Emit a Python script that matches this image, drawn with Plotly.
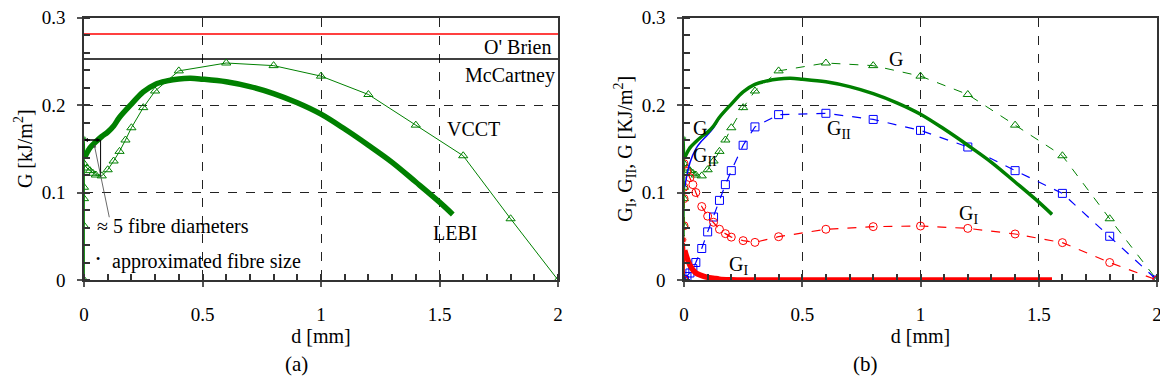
import plotly.graph_objects as go

# ---------------- data ----------------
# VCCT nodal results (both panels)
vcct_d = [0, 0, 0, 0, 0, 0.0125, 0.025, 0.0375, 0.05, 0.075, 0.1, 0.125, 0.15, 0.175, 0.2,
          0.25, 0.3, 0.4, 0.6, 0.8, 1.0, 1.2, 1.4, 1.6, 1.8, 2.0]
vcct_G = [0, 0.062, 0.093, 0.106, 0.133, 0.128, 0.125, 0.122, 0.120, 0.119, 0.126, 0.136, 0.147,
          0.160, 0.174, 0.197, 0.216, 0.239, 0.248, 0.245, 0.233, 0.212, 0.177, 0.142, 0.070, 0.0]
vcct_GI = [0, 0.062, 0.093, 0.106, 0.133, 0.124, 0.117, 0.109, 0.100, 0.084, 0.073, 0.066, 0.058,
           0.053, 0.049, 0.045, 0.043, 0.0495, 0.058, 0.061, 0.0617, 0.059, 0.0526, 0.0427, 0.020, 0.0]
vcct_GII = [0, 0, 0, 0, 0, 0.004, 0.008, 0.013, 0.020, 0.036, 0.055, 0.072, 0.091, 0.109, 0.125,
            0.154, 0.175, 0.189, 0.1905, 0.1835, 0.171, 0.152, 0.125, 0.099, 0.050, 0.0]

# LEBI results
lebi_start_d = [0, 0, 0.003]
lebi_start_G = [0, 0.162, 0.140]
lebi_start_GI = [0, 0.046, 0.034]
lebi_d = [0.003, 0.025, 0.05, 0.075, 0.1, 0.125, 0.15, 0.2, 0.25, 0.3, 0.35, 0.4, 0.45, 0.5,
          0.6, 0.7, 0.8, 0.9, 1.0, 1.1, 1.2, 1.3, 1.4, 1.5, 1.556]
lebi_G = [0.140, 0.151, 0.158, 0.164, 0.169, 0.176, 0.186, 0.201, 0.215, 0.2235, 0.2275, 0.2298,
          0.2305, 0.2295, 0.2265, 0.221, 0.213, 0.2025, 0.1895, 0.1725, 0.154, 0.1345, 0.112,
          0.089, 0.075]
lebi_GI = [0.034, 0.017, 0.008, 0.005, 0.003, 0.002, 0.001, 0.0003, 0, 0, 0, 0, 0, 0, 0, 0, 0,
           0, 0, 0, 0, 0, 0, 0, 0]
lebi_GII = [0.106, 0.134, 0.150, 0.159, 0.166, 0.174, 0.185, 0.2007, 0.215, 0.2235, 0.2275, 0.2298,
            0.2305, 0.2295, 0.2265, 0.221, 0.213, 0.2025, 0.1895, 0.1725, 0.154, 0.1345, 0.112,
            0.089, 0.075]

# reference values
obrien_G = 0.281
mccartney_G = 0.2526
ref_d = [0, 2]

x_ticks = [0, 0.5, 1, 1.5, 2]
x_ticklabels = ["0", "0.5", "1", "1.5", "2"]
y_ticks = [0, 0.1, 0.2, 0.3]
y_ticklabels = ["0", "0.1", "0.2", "0.3"]

GREEN = "#008000"
RED = "#ff0000"
BLUE = "#0000ff"
FONT = "Liberation Serif, Times New Roman, serif"
TICK_SIZE = 19
TEXT_SIZE = 20

fig = go.Figure()

# ---------------- panel (a) ----------------
fig.add_trace(go.Scatter(x=ref_d, y=[obrien_G] * 2, mode="lines",
                         line=dict(color=RED, width=1.5), xaxis="x", yaxis="y"))
fig.add_trace(go.Scatter(x=ref_d, y=[mccartney_G] * 2, mode="lines",
                         line=dict(color="black", width=1.5), xaxis="x", yaxis="y"))
fig.add_trace(go.Scatter(x=vcct_d, y=vcct_G, mode="lines+markers",
                         line=dict(color=GREEN, width=1),
                         marker=dict(symbol="triangle-up-open", size=8, color=GREEN, line=dict(width=1)),
                         xaxis="x", yaxis="y"))
fig.add_trace(go.Scatter(x=lebi_start_d, y=lebi_start_G, mode="lines+markers",
                         line=dict(color=GREEN, width=1.5),
                         marker=dict(size=[0, 5, 0], color=GREEN),
                         xaxis="x", yaxis="y"))
fig.add_trace(go.Scatter(x=lebi_d, y=lebi_G, mode="lines", line=dict(color=GREEN, width=5.5, shape="spline"),
                         xaxis="x", yaxis="y"))

# ---------------- panel (b) ----------------
fig.add_trace(go.Scatter(x=vcct_d, y=vcct_G, mode="lines+markers",
                         line=dict(color=GREEN, width=1, dash="dash"),
                         marker=dict(symbol="triangle-up-open", size=8, color=GREEN, line=dict(width=1)),
                         xaxis="x2", yaxis="y2"))
fig.add_trace(go.Scatter(x=vcct_d, y=vcct_GII, mode="lines+markers",
                         line=dict(color=BLUE, width=1.2, dash="dash"),
                         marker=dict(symbol="square-open", size=8, color=BLUE, line=dict(width=1)),
                         xaxis="x2", yaxis="y2"))
fig.add_trace(go.Scatter(x=vcct_d, y=vcct_GI, mode="lines+markers",
                         line=dict(color=RED, width=1.2, dash="dash"),
                         marker=dict(symbol="circle-open", size=8, color=RED, line=dict(width=1)),
                         xaxis="x2", yaxis="y2"))
fig.add_trace(go.Scatter(x=lebi_d, y=lebi_GII, mode="lines", line=dict(color=BLUE, width=1.5, shape="spline"),
                         xaxis="x2", yaxis="y2"))
fig.add_trace(go.Scatter(x=lebi_start_d, y=lebi_start_G, mode="lines+markers",
                         line=dict(color=GREEN, width=1.5),
                         marker=dict(size=[0, 5, 0], color=GREEN),
                         xaxis="x2", yaxis="y2"))
fig.add_trace(go.Scatter(x=lebi_d, y=lebi_G, mode="lines", line=dict(color=GREEN, width=3.5, shape="spline"),
                         xaxis="x2", yaxis="y2"))
fig.add_trace(go.Scatter(x=lebi_start_d, y=lebi_start_GI, mode="lines+markers",
                         line=dict(color=RED, width=1.5),
                         marker=dict(size=[0, 6, 0], color=RED),
                         xaxis="x2", yaxis="y2"))
fig.add_trace(go.Scatter(x=lebi_d, y=lebi_GI, mode="lines", line=dict(color=RED, width=5.5, shape="spline"),
                         xaxis="x2", yaxis="y2"))

axis_common = dict(
    showline=True, linecolor="#333", linewidth=1.5, mirror=True,
    showgrid=True, gridcolor="#222", griddash="dash", gridwidth=1,
    zeroline=False, automargin=False,
    ticks="outside", ticklen=5, tickcolor="#555", tickwidth=1.5,
    tickfont=dict(family=FONT, size=TICK_SIZE, color="black"),
)
xaxis_common = dict(axis_common, range=[0, 2], tickvals=x_ticks, ticktext=x_ticklabels,
                    minor=dict(dtick=0.1, ticks="inside", ticklen=6, tickcolor="#333", showgrid=False),
                    ticklabelstandoff=11, ticklabeloverflow="allow",
                    title=dict(text="d [mm]", font=dict(family=FONT, size=TEXT_SIZE, color="black"),
                               standoff=2))
yaxis_common = dict(axis_common, range=[0, 0.3], tickvals=y_ticks, ticktext=y_ticklabels,
                    minor=dict(dtick=0.02, ticks="inside", ticklen=6, tickcolor="#333", showgrid=False),
                    ticklabelstandoff=8)

fig.update_layout(
    width=1160, height=392,
    margin=dict(l=0, r=0, t=0, b=0),
    paper_bgcolor="white", plot_bgcolor="white",
    showlegend=False,
    font=dict(family=FONT, size=TEXT_SIZE, color="black"),
    xaxis=dict(xaxis_common, domain=[84 / 1160, 558 / 1160], anchor="y"),
    yaxis=dict(yaxis_common, domain=[1 - 280 / 392, 1 - 17.5 / 392], anchor="x",
               title=dict(text="G [kJ/m<sup>2</sup>]", font=dict(family=FONT, size=TEXT_SIZE, color="black"),
                          standoff=4)),
    xaxis2=dict(xaxis_common, domain=[684 / 1160, 1157 / 1160], anchor="y2"),
    yaxis2=dict(yaxis_common, domain=[1 - 280 / 392, 1 - 17.5 / 392], anchor="x2",
                title=dict(text="G<sub>I</sub>, G<sub>II</sub>, G [KJ/m<sup>2</sup>]",
                           font=dict(family=FONT, size=TEXT_SIZE, color="black"), standoff=4)),
)

def ann(text, x, y, xref, yref, xanchor="left", size=TEXT_SIZE):
    fig.add_annotation(text=text, x=x, y=y, xref=xref, yref=yref, showarrow=False,
                       xanchor=xanchor, yanchor="middle",
                       font=dict(family=FONT, size=size, color="black"))

# panel (a) labels
ann("O' Brien", 1.98, 0.2665, "x", "y", xanchor="right")
ann("McCartney", 1.995, 0.234, "x", "y", xanchor="right")
ann("VCCT", 1.525, 0.172, "x", "y")
ann("LEBI", 1.465, 0.054, "x", "y")
ann("\u2248 5 fibre diameters", 0.045, 0.062, "x", "y")
ann("approximated fibre size", 0.11, 0.021, "x", "y")
fig.add_annotation(text="(a)", x=283 / 1160, y=1 - 378 / 392, xref="paper", yref="paper",
                   showarrow=False, font=dict(family=FONT, size=21, color="black"))

# fibre-size bracket
fig.add_shape(type="line", x0=0.07, x1=0.07, y0=0.16, y1=0.118, xref="x", yref="y",
              line=dict(color="black", width=1))
fig.add_annotation(x=0.0, y=0.16, ax=0.07, ay=0.16, xref="x", yref="y", axref="x", ayref="y",
                   showarrow=True, arrowhead=2, arrowsize=0.8, arrowwidth=1, arrowcolor="black", text="")
fig.add_annotation(x=0.07, y=0.16, ax=0.0, ay=0.16, xref="x", yref="y", axref="x", ayref="y",
                   showarrow=True, arrowhead=2, arrowsize=0.8, arrowwidth=1, arrowcolor="black", text="")
fig.add_annotation(x=0.043, y=0.155, ax=0.108, ay=0.07, xref="x", yref="y", axref="x", ayref="y",
                   showarrow=True, arrowhead=2, arrowsize=0.8, arrowwidth=0.8, arrowcolor="#444", text="")
fig.add_annotation(text="\u2022", x=0.058, y=0.024, xref="x", yref="y", showarrow=False,
                   font=dict(family=FONT, size=12, color="black"))

# panel (b) labels
ann("G", 0.86, 0.253, "x2", "y2")
ann("G<sub>II</sub>", 0.595, 0.172, "x2", "y2")
ann("G<sub>I</sub>", 1.155, 0.075, "x2", "y2")
ann("G", 0.03, 0.174, "x2", "y2")
ann("G<sub>II</sub>", 0.03, 0.141, "x2", "y2")
ann("G<sub>I</sub>", 0.18, 0.017, "x2", "y2")
fig.add_annotation(text="(b)", x=880 / 1160, y=1 - 378 / 392, xref="paper", yref="paper",
                   showarrow=False, font=dict(family=FONT, size=21, color="black"))

fig.write_html("out.html")
